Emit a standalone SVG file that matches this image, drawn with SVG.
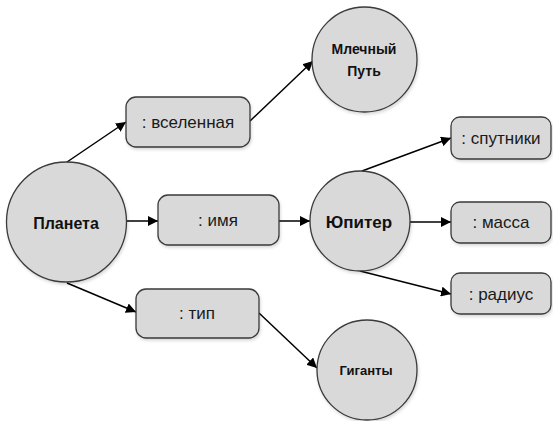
<svg xmlns="http://www.w3.org/2000/svg" width="553" height="421" viewBox="0 0 553 421">
  <defs>
    <marker id="arr" viewBox="0 0 10 10" refX="10" refY="5" markerWidth="10" markerHeight="10" markerUnits="userSpaceOnUse" orient="auto">
      <path d="M0,0 L10,5 L0,10 z" fill="#000"/>
    </marker>
    <filter id="sh" x="-20%" y="-20%" width="140%" height="140%">
      <feDropShadow dx="1" dy="2" stdDeviation="1.5" flood-color="#000" flood-opacity="0.15"/>
    </filter>
  </defs>
  <style>
    .n { fill: #d9d9d9; stroke: #3a3a3a; stroke-width: 1.3; filter: url(#sh); }
    .t { font-family: "Liberation Sans", Arial, sans-serif; font-size: 17px; fill: #1a1a1a; text-anchor: middle; dominant-baseline: central; }
    .b { font-family: "Liberation Sans", Arial, sans-serif; font-weight: bold; fill: #111; text-anchor: middle; dominant-baseline: central; }
    .c { stroke: #000; stroke-width: 1.5; fill: none; marker-end: url(#arr); }
  </style>
  <rect width="553" height="421" fill="#fff"/>

  <g id="connectors">
    <line class="c" x1="67" y1="162" x2="126" y2="122"/>
    <line class="c" x1="250" y1="121" x2="313" y2="61"/>
    <line class="c" x1="126" y1="221" x2="158" y2="221"/>
    <line class="c" x1="279" y1="221" x2="310" y2="221"/>
    <line class="c" x1="362" y1="171" x2="451" y2="138"/>
    <line class="c" x1="410" y1="222" x2="451" y2="222"/>
    <line class="c" x1="360" y1="271" x2="451" y2="294"/>
    <line class="c" x1="67" y1="283" x2="136" y2="312"/>
    <line class="c" x1="259" y1="313" x2="317" y2="368"/>
  </g>

  <g id="milkyway">
    <circle class="n" cx="364.5" cy="59.5" r="52.5"/>
    <text class="b" x="364" y="49" font-size="14">Млечный</text>
    <text class="b" x="364" y="71" font-size="14">Путь</text>
  </g>
  <g id="universe">
    <rect class="n" x="126" y="97" width="124" height="50" rx="10"/>
    <text class="t" x="188" y="122">: вселенная</text>
  </g>
  <g id="planet">
    <circle class="n" cx="66.5" cy="222" r="60"/>
    <text class="b" x="66" y="223" font-size="16">Планета</text>
  </g>
  <g id="name">
    <rect class="n" x="158" y="195" width="121" height="50" rx="10"/>
    <text class="t" x="218" y="220">: имя</text>
  </g>
  <g id="jupiter">
    <circle class="n" cx="360" cy="221" r="50"/>
    <text class="b" x="359" y="222" font-size="17">Юпитер</text>
  </g>
  <g id="satellites">
    <rect class="n" x="451" y="117" width="100" height="42" rx="9"/>
    <text class="t" x="501" y="138">: спутники</text>
  </g>
  <g id="mass">
    <rect class="n" x="451" y="202" width="100" height="41" rx="9"/>
    <text class="t" x="501" y="222">: масса</text>
  </g>
  <g id="radius">
    <rect class="n" x="451" y="273" width="100" height="41" rx="9"/>
    <text class="t" x="501" y="294">: радиус</text>
  </g>
  <g id="type">
    <rect class="n" x="136" y="289" width="123" height="49" rx="10"/>
    <text class="t" x="197" y="313">: тип</text>
  </g>
  <g id="giants">
    <circle class="n" cx="367" cy="370" r="50"/>
    <text class="b" x="366" y="370" font-size="13">Гиганты</text>
  </g>
</svg>
